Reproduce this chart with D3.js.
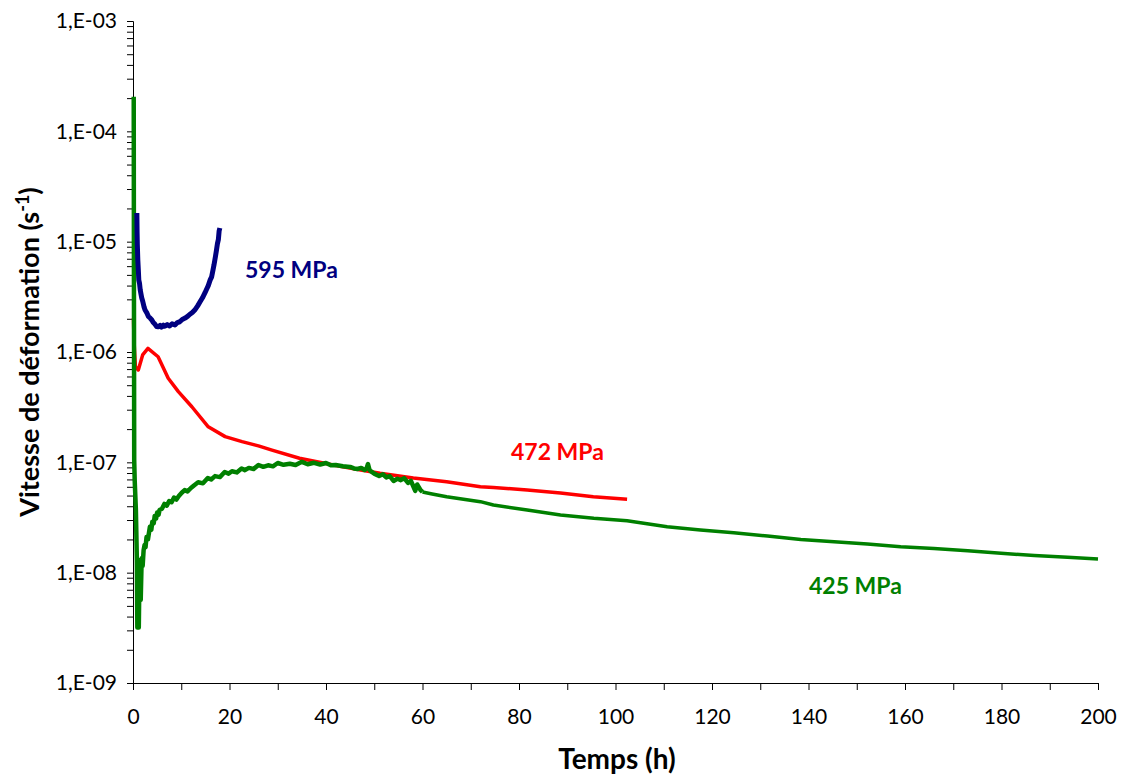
<!DOCTYPE html>
<html><head><meta charset="utf-8">
<script src="https://cdn.jsdelivr.net/npm/d3@7"></script>
<style>body{margin:0;background:#fff}svg{display:block}text{font-family:Lato,"Liberation Sans",sans-serif}</style>
</head><body>
<svg id="c" width="1124" height="779"></svg>
<script>
// ---- data (time in h, strain rate in s^-1) ----
const blueT = [0.8, 0.85, 0.9, 1.0, 1.1, 1.2, 1.35, 1.5, 1.8, 2.0, 2.3, 2.5, 2.9, 3.2, 3.6, 3.9, 4.2, 4.5, 4.9, 5.2, 5.6, 5.9, 6.3, 6.6, 7.1, 7.6, 8.1, 8.7, 9.2, 9.7, 10.2, 10.8, 11.3, 11.8, 12.3, 12.8, 13.4, 13.9, 14.4, 14.9, 15.3, 15.6, 16.0, 16.3, 16.6, 16.8, 17.1, 17.3, 17.5, 17.7, 17.85, 18.0];
const blueV = [1.82e-5, 1.2e-5, 9.3e-6, 6.8e-6, 5.6e-6, 4.5e-6, 4.2e-6, 3.65e-6, 3.1e-6, 2.9e-6, 2.55e-6, 2.4e-6, 2.25e-6, 2.1e-6, 2.02e-6, 1.95e-6, 1.85e-6, 1.8e-6, 1.7e-6, 1.69e-6, 1.74e-6, 1.68e-6, 1.75e-6, 1.71e-6, 1.77e-6, 1.72e-6, 1.8e-6, 1.76e-6, 1.85e-6, 1.88e-6, 1.97e-6, 2.03e-6, 2.1e-6, 2.2e-6, 2.28e-6, 2.4e-6, 2.62e-6, 2.85e-6, 3.1e-6, 3.43e-6, 3.75e-6, 4.0e-6, 4.5e-6, 4.8e-6, 5.6e-6, 6.2e-6, 7.4e-6, 8.4e-6, 9.6e-6, 1.05e-5, 1.25e-5, 1.33e-5];

const redT = [0.1, 0.2, 0.5, 1.1, 2.0, 3.1, 5.2, 7.3, 9.4, 12.2, 15.6, 19.1, 22.6, 26.0, 28.8, 34.5, 41.5, 47.2, 51.2, 58.1, 65.0, 72.0, 74.7, 81.7, 88.6, 95.4, 102.4];
const redV = [2.03e-6, 1.28e-6, 7.36e-7, 6.87e-7, 9.4e-7, 1.08e-6, 9.06e-7, 5.78e-7, 4.37e-7, 3.19e-7, 2.1e-7, 1.71e-7, 1.54e-7, 1.41e-7, 1.29e-7, 1.09e-7, 9.46e-8, 8.52e-8, 7.96e-8, 7.22e-8, 6.67e-8, 6.01e-8, 5.91e-8, 5.61e-8, 5.27e-8, 4.88e-8, 4.62e-8];

// noisy early part of the 425 MPa test
const greenT1 = [0.15, 0.2, 0.25, 0.35, 0.6, 0.8, 0.9, 1.2, 1.3, 1.4, 1.6, 1.8, 2.0, 2.2, 2.4, 2.6, 2.8, 3.1, 3.5, 3.8, 4.0, 4.3, 4.5, 4.8, 5.0, 5.3, 5.5, 6.0, 6.5, 7.0, 7.5, 8.0, 8.5, 9.0, 9.5, 10.1, 10.7, 11.3, 12.0, 12.7, 13.5, 14.5, 15.5, 16.2, 17.0, 18.0, 19.0, 19.8, 20.5, 21.5, 22.5, 23.2, 24.0, 25.0, 26.0, 27.0, 28.0, 29.0, 30.0, 31.2, 32.5, 33.7, 35.0, 36.2, 37.5, 38.8, 40.0, 41.0, 42.0, 43.5, 45.0, 45.8, 46.5, 47.3, 48.0, 48.4, 48.7, 49.0, 49.2, 50.0, 51.0, 51.8, 52.5, 53.2, 54.0, 54.8, 55.5, 56.2, 57.0, 57.6, 58.0, 58.5, 58.9, 59.2, 59.6, 60.0];
const greenV1 = [2.06e-4, 2.96e-6, 1.05e-7, 6.9e-8, 3.7e-8, 1.3e-8, 3.18e-9, 3.18e-9, 6.97e-9, 1.3e-8, 5.65e-9, 1.35e-8, 1.15e-8, 1.6e-8, 1.78e-8, 1.7e-8, 2.1e-8, 2.0e-8, 2.6e-8, 2.45e-8, 2.9e-8, 2.8e-8, 3.27e-8, 3.1e-8, 3.5e-8, 3.35e-8, 3.7e-8, 3.8e-8, 4.2e-8, 4.05e-8, 4.46e-8, 4.35e-8, 4.8e-8, 4.6e-8, 4.95e-8, 5.3e-8, 5.6e-8, 5.45e-8, 5.85e-8, 6.2e-8, 6.6e-8, 6.45e-8, 7.2e-8, 7.0e-8, 7.5e-8, 7.35e-8, 8.17e-8, 7.9e-8, 8.3e-8, 8.1e-8, 8.79e-8, 8.5e-8, 8.9e-8, 8.7e-8, 9.46e-8, 9.1e-8, 9.4e-8, 9.2e-8, 9.86e-8, 9.5e-8, 9.7e-8, 9.45e-8, 1.01e-7, 9.6e-8, 9.9e-8, 9.55e-8, 9.86e-8, 9.4e-8, 9.46e-8, 9.2e-8, 9.08e-8, 8.8e-8, 8.7e-8, 8.9e-8, 8.52e-8, 8.8e-8, 9.65e-8, 8.6e-8, 8.35e-8, 7.9e-8, 7.52e-8, 7.8e-8, 7.3e-8, 7.5e-8, 6.78e-8, 7.1e-8, 6.9e-8, 7.2e-8, 6.5e-8, 6.8e-8, 6.2e-8, 5.5e-8, 6.3e-8, 6.0e-8, 5.6e-8, 5.39e-8];
// smooth later part
const greenT2 = [60.0, 62.0, 65.0, 72.0, 74.7, 81.7, 88.6, 95.5, 102.4, 110.7, 117.6, 124.5, 131.5, 138.4, 145.3, 152.2, 159.1, 166.0, 173.0, 179.9, 186.8, 193.7, 200.0];
const greenV2 = [5.39e-8, 5.17e-8, 4.88e-8, 4.4e-8, 4.1e-8, 3.7e-8, 3.33e-8, 3.11e-8, 2.95e-8, 2.61e-8, 2.44e-8, 2.30e-8, 2.15e-8, 2.0e-8, 1.91e-8, 1.82e-8, 1.72e-8, 1.66e-8, 1.58e-8, 1.50e-8, 1.43e-8, 1.38e-8, 1.33e-8];

const xTicks = [0, 20, 40, 60, 80, 100, 120, 140, 160, 180, 200];
const xMinorTicks = [10, 30, 50, 70, 90, 110, 130, 150, 170, 190];
const yDecades = [1e-9, 1e-8, 1e-7, 1e-6, 1e-5, 1e-4, 1e-3];
const yTickLabels = ["1,E-09", "1,E-08", "1,E-07", "1,E-06", "1,E-05", "1,E-04", "1,E-03"];
const seriesLabels = ["595 MPa", "472 MPa", "425 MPa"];

// ---- drawing ----
const svg = d3.select("#c");
const x = d3.scaleLinear().domain([0, 200]).range([133, 1098]);
const y = d3.scaleLog().domain([1e-9, 1e-3]).range([683, 21]);

const toPts = (T, V) => T.map((t, i) => [t, V[i]]);
const line = d3.line().x(d => x(d[0])).y(d => y(d[1]));

// axes
const yAll = y.ticks();
const yAxis = d3.axisLeft(y).tickValues(yAll).tickSize(6)
  .tickFormat(d => { const i = yDecades.findIndex(v => Math.abs(Math.log10(v) - Math.log10(d)) < 1e-6); return i >= 0 ? yTickLabels[i] : ""; });
const gy = svg.append("g").attr("transform", "translate(133,0)").call(yAxis);
gy.selectAll("text").attr("font-size", 21).attr("fill", "#000").attr("x", -16).attr("font-family", "Lato");
gy.selectAll("line").attr("stroke", "#000");
gy.select(".domain").attr("stroke", "#000");

const xAxis = d3.axisBottom(x).tickValues(xTicks.concat(xMinorTicks).sort((a, b) => a - b)).tickSize(7)
  .tickFormat(d => xTicks.includes(d) ? String(d) : "");
const gx = svg.append("g").attr("transform", "translate(0,683)").call(xAxis);
gx.selectAll("text").attr("font-size", 21).attr("fill", "#000").attr("y", 26).attr("font-family", "Lato");
gx.selectAll("line").attr("stroke", "#000");
gx.select(".domain").attr("stroke", "#000");

// series
svg.append("path").datum(toPts(greenT2, greenV2)).attr("d", line)
  .attr("fill", "none").attr("stroke", "#008000").attr("stroke-width", 3.5).attr("stroke-linejoin", "round");
svg.append("path").datum(toPts(redT, redV)).attr("d", line)
  .attr("fill", "none").attr("stroke", "#ff0000").attr("stroke-width", 3.5).attr("stroke-linejoin", "round");
svg.append("path").datum(toPts(greenT1, greenV1)).attr("d", line)
  .attr("fill", "none").attr("stroke", "#008000").attr("stroke-width", 4.5).attr("stroke-linejoin", "round");
svg.append("path").datum(toPts(blueT, blueV)).attr("d", line)
  .attr("fill", "none").attr("stroke", "#000080").attr("stroke-width", 5).attr("stroke-linejoin", "round");

// labels
const lab = [
  {t: seriesLabels[0], x: 245, y: 278, c: "#000080"},
  {t: seriesLabels[1], x: 511, y: 460, c: "#ff0000"},
  {t: seriesLabels[2], x: 809, y: 594, c: "#008000"}
];
svg.selectAll(".slab").data(lab).enter().append("text").attr("class", "slab")
  .attr("x", d => d.x).attr("y", d => d.y).attr("fill", d => d.c)
  .attr("font-size", 23).attr("font-weight", "bold").text(d => d.t);

// axis titles
svg.append("text").attr("x", 617).attr("y", 769).attr("text-anchor", "middle")
  .attr("font-size", 28).attr("font-weight", "bold").text("Temps (h)");
const yt = svg.append("text").attr("transform", "translate(39,352) rotate(-90)").attr("text-anchor", "middle")
  .attr("font-size", 27).attr("font-weight", "bold");
yt.append("tspan").text("Vitesse de déformation (s");
yt.append("tspan").attr("dy", -10).attr("font-size", 18).text("-1");
yt.append("tspan").attr("dy", 10).text(")");
</script>
</body></html>
